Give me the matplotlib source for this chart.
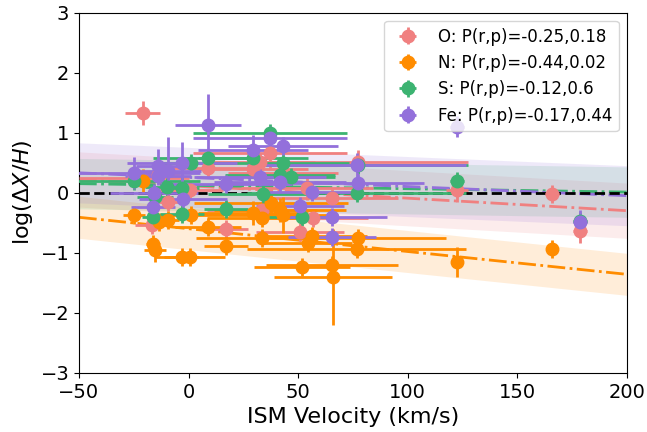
import numpy as np
import matplotlib
matplotlib.use("Agg")
import matplotlib.pyplot as plt

# ---- data ----
O_x = [-21.0, -24.9, -16.6, -14.0, -9.4, 0.6, 8.9, 17.1, 29.4, 32.6, 33.5, 37.2, 43.0, 50.8, 54.0, 56.7, 65.4, 77.3, 122.5, 165.8, 178.6]
O_y = [1.32, 0.24, -0.54, 0.30, -0.16, 0.05, 0.41, -0.61, 0.40, 0.51, -0.29, 0.66, 0.33, -0.66, 0.08, -0.43, -0.09, 0.51, 0.05, -0.02, -0.63]
O_xerr = [8, 25, 8, 10, 8, 15, 20, 10, 25, 25, 25, 35, 25, 20, 30, 25, 30, 50, 5, 3, 3]
O_yerr = [0.2, 0.15, 0.15, 0.15, 0.15, 0.15, 0.15, 0.15, 0.15, 0.15, 0.15, 0.25, 0.2, 0.15, 0.2, 0.15, 0.15, 0.2, 0.2, 0.15, 0.2]

N_x = [-24.9, -20.8, -16.2, -15.3, -13.5, -9.4, -3.0, 0.6, 1.1, 8.9, 17.1, 29.4, 33.5, 33.5, 37.6, 41.7, 43.0, 51.7, 54.5, 56.3, 65.4, 65.9, 76.8, 77.3, 122.5, 165.8]
N_y = [-0.37, 0.20, -0.86, -0.96, -0.49, -0.46, -1.07, -1.07, -0.37, -0.57, -0.89, -0.34, -0.42, -0.76, -0.17, -0.29, -0.37, -1.24, -0.84, -0.72, -1.20, -1.40, -0.94, -0.76, -1.16, -0.94]
N_xerr = [5, 3, 3, 5, 5, 5, 8, 16, 15, 15, 10, 25, 25, 30, 35, 30, 25, 22, 20, 25, 30, 27, 50, 40, 0, 2]
N_yerr = [0.15, 0.2, 0.15, 0.2, 0.15, 0.15, 0.15, 0.15, 0.15, 0.15, 0.15, 0.2, 0.15, 0.15, 0.2, 0.2, 0.3, 0.15, 0.15, 0.15, 0.15, 0.8, 0.15, 0.15, 0.25, 0.15]

S_x = [-24.9, -16.2, -15.3, -9.8, -3.0, -3.0, 1.1, 8.9, 17.1, 29.4, 34.0, 37.2, 41.7, 43.0, 46.7, 51.7, 76.8, 77.3, 122.5, 178.6]
S_y = [0.19, -0.40, -0.08, 0.10, 0.08, -0.36, 0.49, 0.58, -0.27, 0.57, -0.02, 1.00, 0.30, 0.50, 0.26, -0.40, 0.00, 0.46, 0.20, -0.47]
S_xerr = [30, 5, 8, 10, 8, 10, 15, 25, 10, 25, 25, 35, 25, 30, 20, 15, 50, 50, 3, 3]
S_yerr = [0.15, 0.15, 0.15, 0.15, 0.2, 0.15, 0.15, 0.15, 0.15, 0.15, 0.15, 0.15, 0.15, 0.15, 0.15, 0.15, 0.15, 0.15, 0.15, 0.15]

Fe_x = [-24.9, -16.2, -15.7, -14.0, -13.9, -9.4, -3.0, -2.5, 8.9, 17.1, 29.4, 32.6, 37.2, 41.7, 43.0, 50.8, 56.3, 65.4, 65.4, 76.8, 77.3, 122.5, 178.6]
Fe_y = [0.33, -0.24, 0.00, 0.28, 0.45, 0.36, 0.49, -0.11, 1.12, 0.15, 0.71, 0.26, 0.91, 0.18, 0.78, -0.22, 0.01, -0.40, -0.74, 0.46, 0.16, 1.10, -0.49]
Fe_xerr = [30, 10, 20, 15, 10, 15, 25, 20, 15, 30, 25, 30, 35, 30, 25, 20, 20, 25, 20, 50, 30, 3, 3]
Fe_yerr = [0.27, 0.15, 0.15, 0.15, 0.27, 0.57, 0.36, 0.15, 0.52, 0.15, 0.25, 0.15, 0.2, 0.15, 0.15, 0.15, 0.15, 0.15, 0.15, 0.2, 0.15, 0.17, 0.2]

fit_x = [-50, 200]
O_fit = [0.22, -0.30]
N_fit = [-0.41, -1.36]
S_fit = [0.15, 0.01]
Fe_fit = [0.33, -0.05]
band_halfwidth = {"O": 0.46, "N": 0.35, "S": 0.42, "Fe": 0.50}

labels = {"O": "O: P(r,p)=-0.25,0.18",
          "N": "N: P(r,p)=-0.44,0.02",
          "S": "S: P(r,p)=-0.12,0.6",
          "Fe": "Fe: P(r,p)=-0.17,0.44"}
colors = {"O": "lightcoral", "N": "darkorange", "S": "mediumseagreen", "Fe": "mediumpurple"}

series = {
    "O": (O_x, O_y, O_xerr, O_yerr, O_fit),
    "N": (N_x, N_y, N_xerr, N_yerr, N_fit),
    "S": (S_x, S_y, S_xerr, S_yerr, S_fit),
    "Fe": (Fe_x, Fe_y, Fe_xerr, Fe_yerr, Fe_fit),
}

fig = plt.figure(figsize=(6.47, 4.32), dpi=100)
ax = fig.add_axes([0.122, 0.137, 0.847, 0.834])

fx = np.array(fit_x, dtype=float)
for key, (x, y, xe, ye, fit) in series.items():
    fy = np.array(fit, dtype=float)
    hw = band_halfwidth[key]
    ax.fill_between(fx, fy - hw, fy + hw, color=colors[key], alpha=0.15, lw=0, zorder=1)

for key, (x, y, xe, ye, fit) in series.items():
    ax.errorbar(x, y, xerr=xe, yerr=ye, fmt='o', color=colors[key], ms=9,
                elinewidth=2, capsize=0, label=labels[key], zorder=3)

for key, (x, y, xe, ye, fit) in series.items():
    ax.plot(fx, fit, ls='-.', color=colors[key], lw=2, zorder=2)

ax.axhline(0, color='black', ls='--', lw=2, zorder=2.5)

ax.set_xlim(-50, 200)
ax.set_ylim(-3, 3)
ax.set_xlabel('ISM Velocity (km/s)', fontsize=16)
ax.set_ylabel(r'log($\Delta X/H$)', fontsize=16)
ax.tick_params(labelsize=14)
ax.legend(loc='upper right', fontsize=12)

fig.savefig('out.png', dpi=100)
